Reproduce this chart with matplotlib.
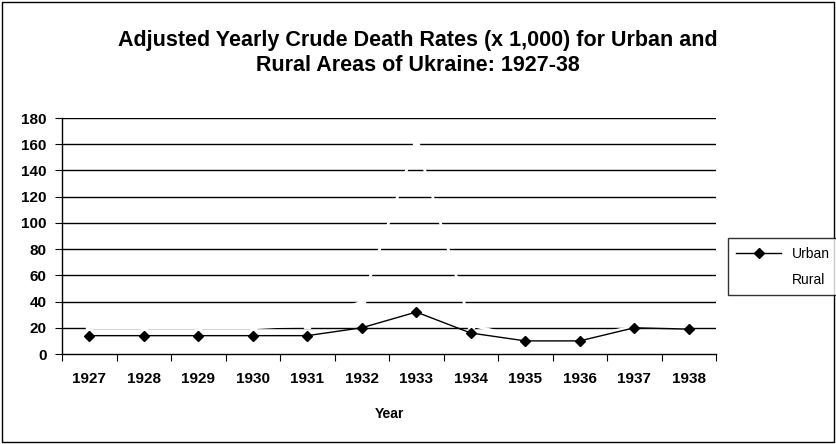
import matplotlib.pyplot as plt
from matplotlib.patches import Rectangle
import numpy as np

plt.rcParams['font.family'] = ['Liberation Sans', 'DejaVu Sans']

years = ['1927', '1928', '1929', '1930', '1931', '1932',
         '1933', '1934', '1935', '1936', '1937', '1938']
urban = [14, 14, 14, 14, 14, 20, 32, 16, 10, 10, 20, 19]
rural = [20, 20, 20, 20, 22, 40, 162, 22, 12, 12, 21, 20]
yticks = [0, 20, 40, 60, 80, 100, 120, 140, 160, 180]


def main():
    fig = plt.figure(figsize=(8.36, 4.44), dpi=100)
    ax = fig.add_axes([0.0742, 0.2027, 0.7823, 0.5315])

    x = np.arange(len(years)) + 0.5
    for v in yticks[1:]:
        ax.axhline(v, color='black', lw=1, zorder=1)

    ax.plot(x, rural, color='white', lw=2, marker='s', ms=4,
            mfc='white', mec='white', label='Rural', zorder=2)
    ax.plot(x, urban, color='black', lw=1, marker='D', ms=5,
            label='Urban', zorder=3)

    ax.set_xlim(0, len(years))
    ax.set_ylim(0, 180)
    ax.set_xticks(np.arange(len(years) + 1))
    ax.set_xticklabels([])
    ax.set_xticks(x, minor=True)
    ax.set_xticklabels(years, minor=True, fontsize=11, fontweight='bold')
    ax.tick_params(axis='x', which='minor', length=0, pad=13)
    ax.tick_params(axis='x', which='major', length=5, direction='out')
    ax.set_yticks(yticks)
    ax.set_yticklabels([str(v) for v in yticks], fontsize=11, fontweight='bold')
    ax.tick_params(axis='y', length=5, direction='out', pad=6)

    ax.spines['right'].set_visible(False)
    ax.spines['top'].set_visible(False)
    for s in ['left', 'bottom']:
        ax.spines[s].set_color('black')
        ax.spines[s].set_linewidth(1)

    ax.set_xlabel('Year', fontsize=10, fontweight='bold', labelpad=15)

    fig.text(0.5, 0.88, 'Adjusted Yearly Crude Death Rates (x 1,000) for Urban and\n'
             'Rural Areas of Ukraine: 1927-38', ha='center', va='center',
             fontsize=15.5, fontweight='bold', linespacing=1.25)

    h, l = ax.get_legend_handles_labels()
    leg = fig.legend(h[::-1], l[::-1], loc='center left',
                     bbox_to_anchor=(0.871, 0.399), fontsize=10,
                     frameon=True, fancybox=False, edgecolor='black',
                     handlelength=3.2, borderpad=0.6, labelspacing=0.9,
                     borderaxespad=0)
    leg.get_frame().set_linewidth(1)

    fig.patches.append(Rectangle((0.002, 0.004), 0.996, 0.992,
                                 transform=fig.transFigure, fill=False,
                                 edgecolor='black', lw=1))

    fig.savefig('out.png', dpi=100)


if __name__ == '__main__':
    main()
